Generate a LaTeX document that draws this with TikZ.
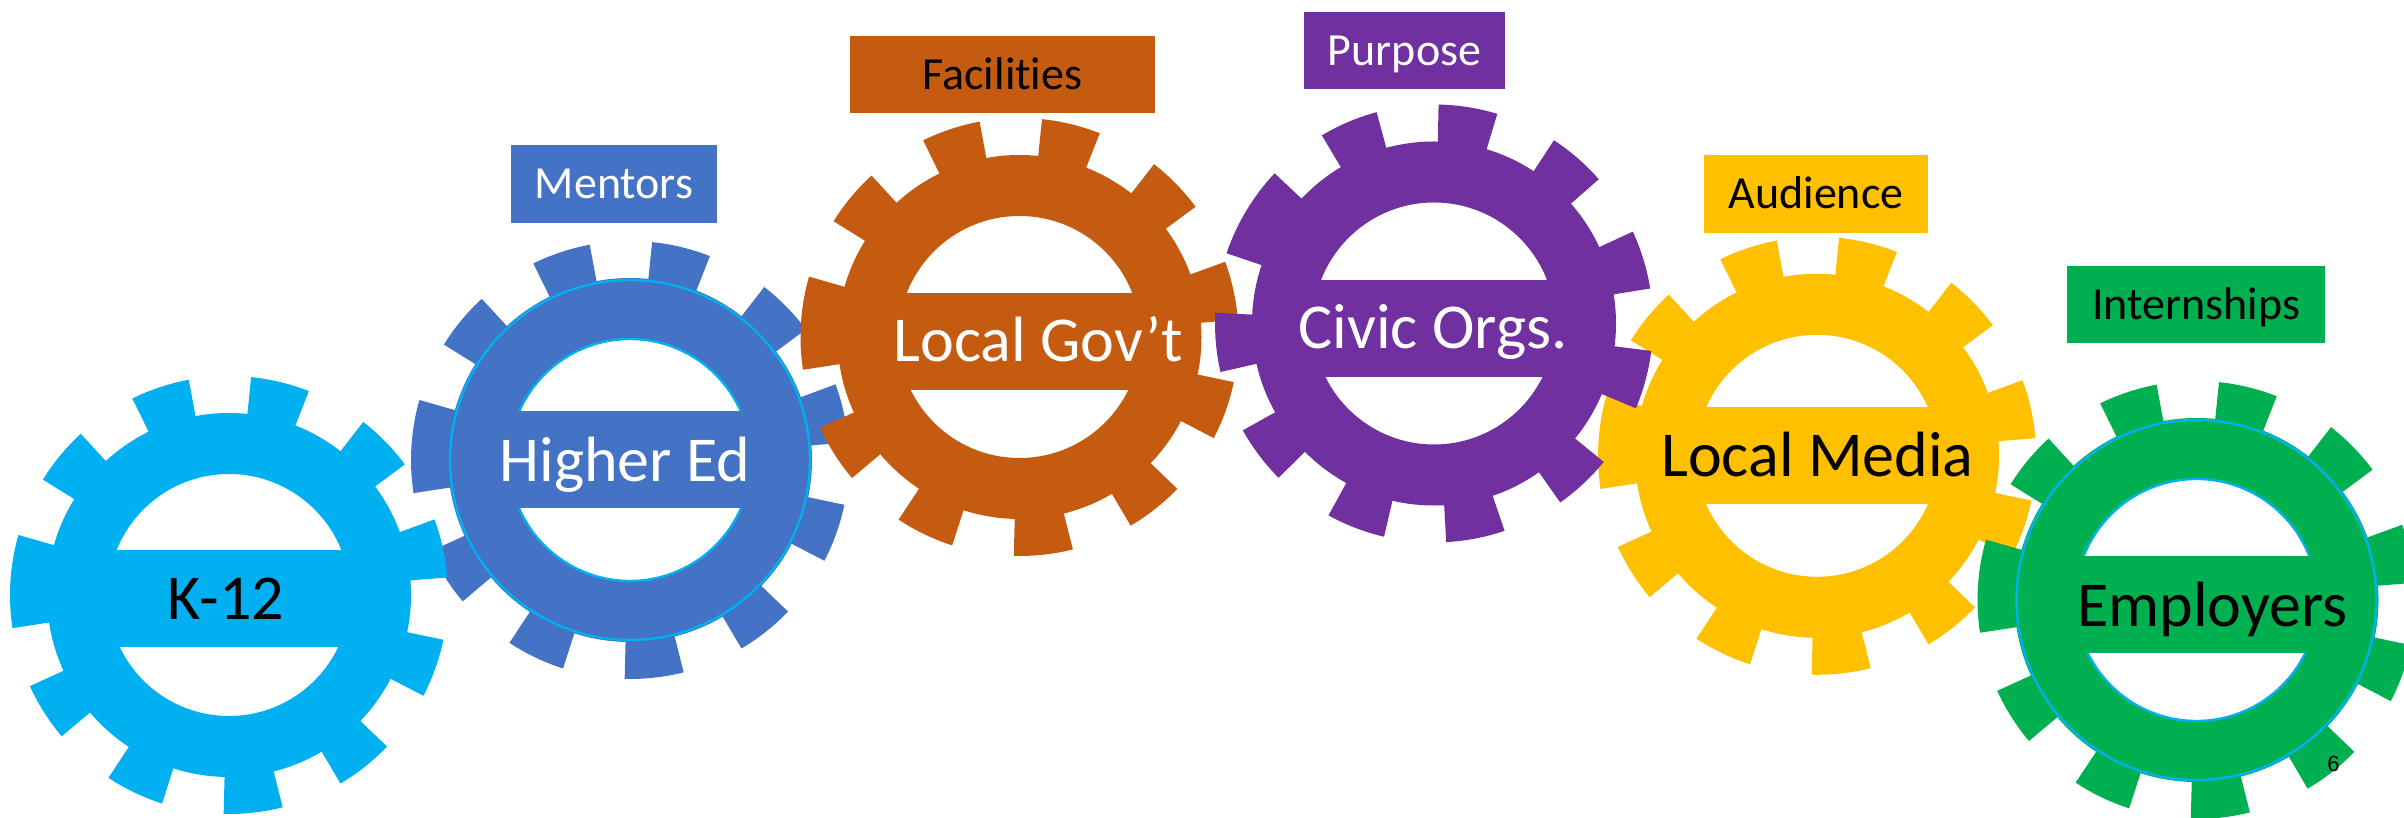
\documentclass[tikz,border=0pt]{standalone}
\usepackage{fontspec}
\setmainfont{Carlito}[Ligatures=CommonOff]
\newfontfamily\arialf{Liberation Sans}
\definecolor{kcyan}{HTML}{00B0F0}
\definecolor{hblue}{HTML}{4472C4}
\definecolor{gorange}{HTML}{C55A11}
\definecolor{cpurple}{HTML}{7030A0}
\definecolor{myellow}{HTML}{FFC000}
\definecolor{egreen}{HTML}{00B050}
\tikzset{
  gearlabel/.style={font=\fontsize{32}{38}\selectfont, text height=20.2pt, text depth=0pt, inner sep=0pt},
  boxlabel/.style={font=\fontsize{23}{28}\selectfont, text height=14.5pt, text depth=0pt, inner sep=0pt},
  ringline/.style={draw=kcyan, line width=1.2pt},
}
% #1 centre, #2 colour, #3 rotation, #4 bar offset, #5 outline style
\newcommand{\drawgear}[5]{%
  \begin{scope}[shift={#1}]
    \fill[#2, even odd rule] (0,0) circle[radius=182] (0,0) circle[radius=121];
    \foreach \t in {144,112,80,48,16,-16,-48,-80,-112,-144}{
      \pgfmathsetmacro\aa{\t+#3-7.8}
      \pgfmathsetmacro\bb{\t+#3+7.8}
      \fill[#2] (\aa:170) -- (\aa:219) arc[start angle=\aa, end angle=\bb, radius=219] -- (\bb:170) -- cycle;
    }
    \pgfmathsetmacro\aa{180+#3-12.3}
    \pgfmathsetmacro\bb{180+#3+12.3}
    \fill[#2] (\aa:170) -- (\aa:219) arc[start angle=\aa, end angle=\bb, radius=219] -- (\bb:170) -- cycle;
    \path[#5] (0,0) circle[radius=180] (0,0) circle[radius=121];
    \fill[#2] (-130,#4-48.5) rectangle (130,#4+48.5);
  \end{scope}}
\begin{document}
\begin{tikzpicture}[x=0.5pt, y=0.5pt]
  \fill[white] (0,0) rectangle (2404,818);
  \useasboundingbox (0,0) rectangle (2404,818);

  % gears
  \drawgear{(630,358)}{hblue}{-3.6}{0}{ringline}
  \drawgear{(229,223)}{kcyan}{-3.6}{-3.5}{}
  \drawgear{(1019.5,481)}{gorange}{-3.7}{-4.3}{}
  \drawgear{(1817,362.2)}{myellow}{-3.6}{0}{}
  \drawgear{(1434,494.5)}{cpurple}{-31}{-4.8}{}
  \drawgear{(2196.5,218)}{egreen}{-3.7}{-5}{ringline}

  % gear labels
  \node[gearlabel, text=black] (k12) at (226,219) {K-12};
  \node[gearlabel, text=white] (higher) at (625,357) {Higher Ed};
  \node[gearlabel, text=white] (gov) at (1038,476.7) {Local Gov’t};
  \node[gearlabel, text=white] (civic) at (1433,489.3) {Civic Orgs.};
  \node[gearlabel, text=black] (media) at (1817.5,362) {Local Media};
  \node[gearlabel, text=black] (employers) at (2212.5,212) {Employers};

  % label boxes
  \node[boxlabel, fill=hblue, text=white, minimum width=103pt, minimum height=39pt] (mentors) at (614,634) {Mentors};
  \node[boxlabel, fill=gorange, text=black, minimum width=152.5pt, minimum height=38.9pt] (facilities) at (1002.5,743.4) {Facilities};
  \node[boxlabel, fill=cpurple, text=white, minimum width=100.5pt, minimum height=38.7pt] (purpose) at (1404.5,767.3) {Purpose};
  \node[boxlabel, fill=myellow, text=black, minimum width=112pt, minimum height=38.9pt] (audience) at (1816,624.2) {Audience};
  \node[boxlabel, fill=egreen, text=black, minimum width=129pt, minimum height=38.5pt] (intern) at (2196,513.2) {Internships};

  % page number
  \node[font=\arialf\fontsize{11}{13}\selectfont, inner sep=0pt, text height=7.9pt, text depth=0pt] (pagenum) at (2333.5,54) {6};
\end{tikzpicture}
\end{document}
